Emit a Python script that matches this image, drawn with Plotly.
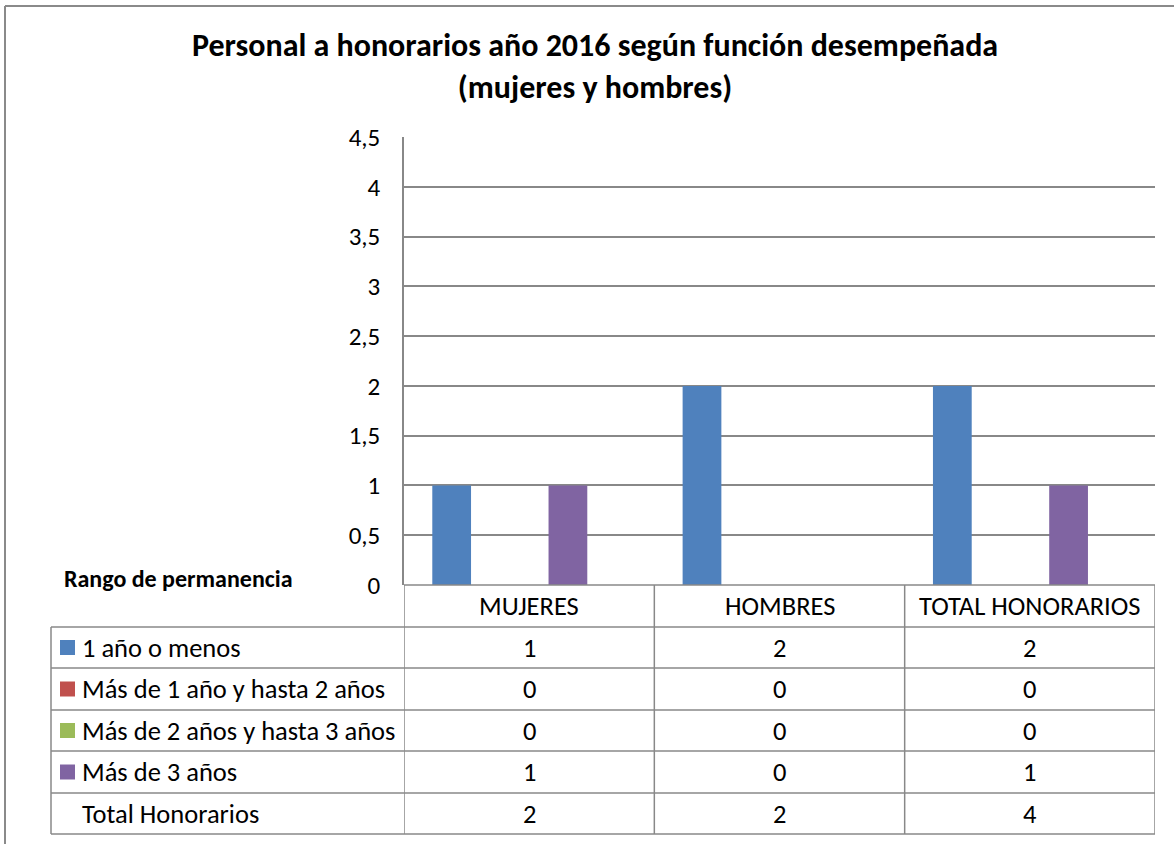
import plotly.graph_objects as go

W, H = 1174, 844

categories = ["MUJERES", "HOMBRES", "TOTAL HONORARIOS"]
series_names = ["1 año o menos", "Más de 1 año y hasta 2 años",
                "Más de 2 años y hasta 3 años", "Más de 3 años", "Total Honorarios"]
s1 = [1, 2, 2]
s2 = [0, 0, 0]
s3 = [0, 0, 0]
s4 = [1, 0, 1]
s5 = [2, 2, 4]
series_values = [s1, s2, s3, s4, s5]
colors = ["#4F81BD", "#C0504D", "#9BBB59", "#8064A2", "rgba(0,0,0,0)"]

FONT = "Carlito, Calibri, Lato, sans-serif"
GRID = "#888888"


def px(x):
    return x / W


def py(y):
    return 1 - y / H


fig = go.Figure()
for name, vals, col in zip(series_names, series_values, colors):
    fig.add_trace(go.Bar(x=categories, y=vals, name=name, marker=dict(color=col, line=dict(width=0)),
                         showlegend=False, hoverinfo="skip" if col.startswith("rgba") else None))

PL, PR, PT, PB = 404, 1155, 137, 585
rows_y = [585, 627, 668, 710, 751, 793, 834]

shapes = []
annotations = []
# outer frame
shapes.append(dict(type="line", xref="paper", yref="paper", x0=px(5), x1=px(W + 5), y0=py(6), y1=py(6),
                   line=dict(color="#8a8a8a", width=2)))
shapes.append(dict(type="line", xref="paper", yref="paper", x0=px(5), x1=px(5), y0=py(6), y1=py(H + 5),
                   line=dict(color="#8a8a8a", width=2)))
# table horizontal lines
shapes.append(dict(type="line", xref="paper", yref="paper", x0=px(PL), x1=px(PR), y0=py(rows_y[0]), y1=py(rows_y[0]),
                   line=dict(color=GRID, width=1.5)))
for ry in rows_y[1:]:
    shapes.append(dict(type="line", xref="paper", yref="paper", x0=px(51), x1=px(PR), y0=py(ry), y1=py(ry),
                       line=dict(color=GRID, width=1.5)))
# table vertical lines (category boundaries)
for b in [-0.5, 0.5, 1.5, 2.5]:
    shapes.append(dict(type="line", xref="x", yref="paper", x0=b, x1=b, y0=py(rows_y[0]), y1=py(rows_y[-1]),
                       line=dict(color=GRID, width=1.5)))
shapes.append(dict(type="line", xref="paper", yref="paper", x0=px(51), x1=px(51), y0=py(rows_y[1]), y1=py(rows_y[-1]),
                   line=dict(color=GRID, width=1.5)))

TXT = 26.5
# header row
hc = (rows_y[0] + rows_y[1]) / 2
for c in categories:
    annotations.append(dict(x=c, xref="x", y=py(hc), yref="paper", text=c, showarrow=False,
                            font=dict(family=FONT, size=TXT, color="#000"), xanchor="center", yanchor="middle"))
# data rows
for i, (name, vals, col) in enumerate(zip(series_names, series_values, colors)):
    cy = (rows_y[i + 1] + rows_y[i + 2]) / 2
    if i < 4:
        shapes.append(dict(type="rect", xref="paper", yref="paper", x0=px(60), x1=px(75),
                           y0=py(cy - 7.5), y1=py(cy + 7.5), fillcolor=col, line=dict(width=0)))
    annotations.append(dict(x=px(80), xref="paper", y=py(cy), yref="paper", text=name, showarrow=False,
                            font=dict(family=FONT, size=TXT, color="#000"), xanchor="left", yanchor="middle"))
    for c, v in zip(categories, vals):
        annotations.append(dict(x=c, xref="x", y=py(cy), yref="paper", text=str(v), showarrow=False,
                                font=dict(family=FONT, size=TXT, color="#000"), xanchor="center",
                                yanchor="middle"))

annotations.append(dict(x=px(62), xref="paper", y=py(578), yref="paper", text="<b>Rango de permanencia</b>",
                        showarrow=False, font=dict(family=FONT, size=24, color="#000"),
                        xanchor="left", yanchor="middle"))

fig.update_layout(
    width=W, height=H,
    margin=dict(l=0, r=0, t=0, b=0, autoexpand=False),
    paper_bgcolor="white", plot_bgcolor="white",
    separators=",.",
    barmode="group", bargap=0.226, bargroupgap=0,
    title=dict(text="<b>Personal a honorarios año 2016 según función desempeñada<br>(mujeres y hombres)</b>",
               x=595 / W, xanchor="center", y=py(56), yanchor="top", automargin=False,
               font=dict(family=FONT, size=32, color="#000")),
    xaxis=dict(domain=[px(PL), px(PR)], range=[-0.5, 2.5], showticklabels=False, showgrid=False,
               zeroline=False, showline=False, automargin=False),
    yaxis=dict(domain=[py(PB), py(PT)], range=[0, 4.5], dtick=0.5, tick0=0, showgrid=True, gridcolor=GRID,
               gridwidth=1.5, zeroline=False, showline=True, linecolor=GRID, linewidth=1.5,
               ticks="", ticklabelstandoff=17, automargin=False,
               tickfont=dict(family=FONT, size=25, color="#000")),
    shapes=shapes, annotations=annotations,
    font=dict(family=FONT, color="#000"),
)

fig.write_html("out.html", config={"displayModeBar": False},
               post_script="document.body.style.margin='0px';document.body.style.overflow='hidden';")
